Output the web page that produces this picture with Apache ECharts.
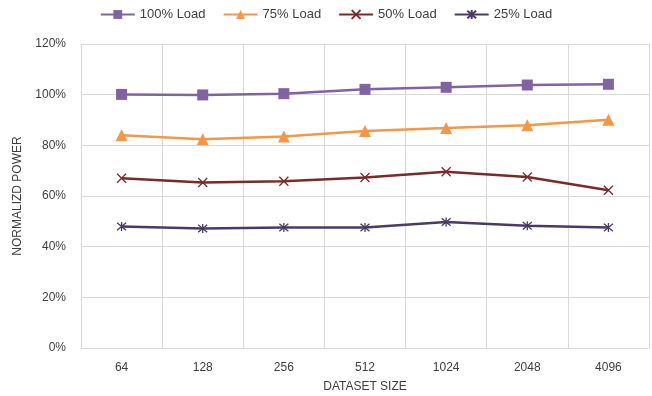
<!DOCTYPE html>
<html><head><meta charset="utf-8">
<script src="https://cdn.jsdelivr.net/npm/echarts@6/dist/echarts.min.js"></script>
<style>html,body{margin:0;padding:0;background:#fff}#c{width:652px;height:396px}</style>
</head><body><div id="c"></div>
<script>
const categories = ['64','128','256','512','1024','2048','4096'];
const load100 = [100.1, 99.9, 100.4, 102.1, 102.9, 103.8, 104.1];
const load75 = [84.0, 82.4, 83.5, 85.7, 86.8, 87.9, 90.1];
const load50 = [67.0, 65.3, 65.8, 67.3, 69.6, 67.5, 62.3];
const load25 = [48.0, 47.2, 47.6, 47.6, 49.7, 48.3, 47.6];
const yTicks = [0, 20, 40, 60, 80, 100, 120];

const font = 'Liberation Sans';
const xPath = 'path://M0,0L10,10M10,0L0,10';
const starPath = 'path://M0,0L10,10M10,0L0,10M5,-1L5,11';

function mk(name, data, color, symbol, size, stroke) {
  return {
    name, type: 'line', data, symbol, symbolSize: size, showSymbol: true,
    lineStyle: { color, width: 2.5 },
    itemStyle: stroke ? { color: 'rgba(0,0,0,0)', borderColor: color, borderWidth: 1.3 } : { color },
    emphasis: { disabled: true }, animation: false
  };
}

const chart = echarts.init(document.getElementById('c'));
chart.setOption({
  animation: false,
  textStyle: { fontFamily: font },
  legend: {
    top: 3, left: 'center', itemWidth: 34, itemHeight: 11, itemGap: 17,
    textStyle: { fontSize: 13, color: '#404040', fontFamily: font },
    data: ['100% Load', '75% Load', '50% Load', '25% Load']
  },
  grid: { left: 81, right: 3, top: 44, bottom: 48, containLabel: false, outerBoundsMode: 'none' },
  xAxis: {
    type: 'category', data: categories, boundaryGap: true,
    name: 'DATASET SIZE', nameLocation: 'middle', nameGap: 33,
    nameTextStyle: { fontSize: 12, color: '#404040' },
    axisLine: { lineStyle: { color: '#d9d9d9' } },
    axisTick: { show: true, length: 0, lineStyle: { color: '#d9d9d9' } },
    axisLabel: { fontSize: 12, color: '#404040', margin: 14 },
    splitLine: { show: true, lineStyle: { color: '#d9d9d9', width: 1 } }
  },
  yAxis: {
    type: 'value', min: yTicks[0], max: yTicks[yTicks.length - 1], interval: 20,
    name: 'NORMALIZD POWER', nameLocation: 'middle', nameGap: 57, nameRotate: 90,
    nameTextStyle: { fontSize: 12, color: '#404040' },
    axisLine: { show: false }, axisTick: { show: false },
    axisLabel: { fontSize: 12, color: '#404040', margin: 15, formatter: v => v + '%' },
    splitLine: { lineStyle: { color: '#d9d9d9', width: 1 } }
  },
  series: [
    mk('100% Load', load100, '#8064A2', 'rect', 11, false),
    mk('75% Load', load75, '#F79646', 'triangle', 12, false),
    mk('50% Load', load50, '#772C2A', xPath, 9, true),
    mk('25% Load', load25, '#4B3A66', starPath, 9, true)
  ]
});
</script></body></html>
